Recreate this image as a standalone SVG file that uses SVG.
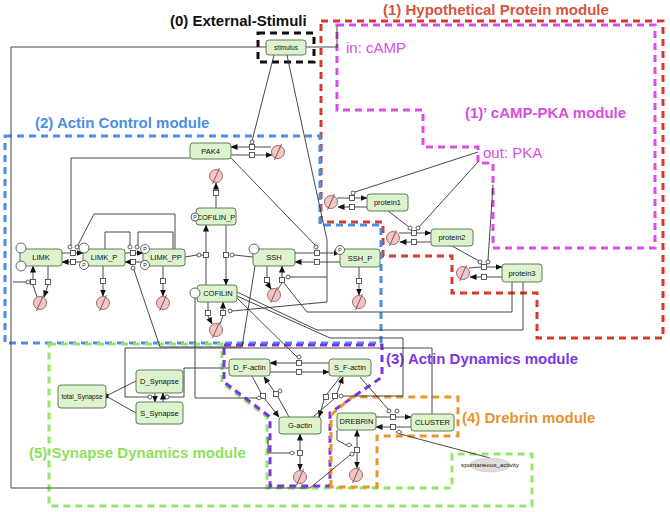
<svg xmlns="http://www.w3.org/2000/svg" xmlns:xlink="http://www.w3.org/1999/xlink" width="670" height="512" viewBox="0 0 670 512">
<style>
.ln{fill:none;stroke:#333;stroke-width:0.9}
.ar{fill:none;stroke:#333;stroke-width:0.9;marker-end:url(#ah)}
.node{fill:#dcf3cd;stroke:#5e7d55;stroke-width:1}
.lbl{font-family:"Liberation Sans",Arial,sans-serif;font-size:7.5px;fill:#111;text-anchor:middle}
.mod{fill:#fff;stroke:#333;stroke-width:0.8}
.big{fill:#fff;stroke:#555;stroke-width:0.9}
.ptx{font-family:"Liberation Sans",Arial,sans-serif;font-size:5px;fill:#222;text-anchor:middle}
.title{font-family:"Liberation Sans",Arial,sans-serif;font-size:15px;font-weight:bold}
.io{font-family:"Liberation Sans",Arial,sans-serif;font-size:15px;fill:#d64ee0}
.mb{fill:none;stroke-width:3;stroke-dasharray:7 5}
</style>
<defs>
<marker id="ah" markerWidth="7" markerHeight="6" refX="6.5" refY="3" orient="auto" markerUnits="userSpaceOnUse"><path d="M0,0 L7,3 L0,6 z" fill="#111"/></marker>
<g id="deg"><circle r="6.5" fill="#f3c6c6" stroke="#8a4a4a" stroke-width="0.8"/><line x1="-3.5" y1="8" x2="3.5" y2="-8" stroke="#6a3a3a" stroke-width="0.8"/></g>
<rect id="sq" x="-2.5" y="-2.5" width="5" height="5" fill="#fff" stroke="#333" stroke-width="0.8"/>
<path id="dia" d="M-3,0 L0,-2 L3,0 L0,2 z" fill="#fff" stroke="#333" stroke-width="0.8"/>
</defs>
<rect width="670" height="512" fill="#fff"/>

<g id="modules">
<polygon class="mb" stroke="#d8392b" points="321,21 663,21 663,338 537,338 537,293 452,293 452,256 383,256 383,222 321,222"/>
<polygon class="mb" stroke="#d94ce6" points="337,25 655,25 655,248 493,248 493,163 478,163 478,147 423,147 423,110 337,110"/>
<polygon class="mb" stroke="#4a8ee8" points="5,136 320,136 320,225 381,225 381,343 5,343"/>
<polygon class="mb" stroke="#94e66a" points="49,344 222,344 222,383 267,417 267,488 452,488 452,454 532,454 532,506 49,506"/>
<polygon class="mb" stroke="#7a35e8" points="224,345 382,345 382,377 330,413 330,486 270,486 270,417 224,382"/>
<polygon class="mb" stroke="#ea952c" points="331,487 331,415 352,397 458,397 458,436 377,436 377,487"/>
<rect class="mb" stroke="#111" x="258" y="33" width="56" height="29"/>
<text class="title" x="170" y="26" fill="#111">(0) External-Stimuli</text>
<text class="title" x="383" y="15" fill="#d9553f">(1) Hypothetical Protein module</text>
<text class="io" x="346" y="53">in: cAMP</text>
<text class="title" x="465" y="118" fill="#d64ee0">(1)’ cAMP-PKA module</text>
<text class="io" x="483" y="158">out: PKA</text>
<text class="title" x="35" y="128" fill="#4a8ee8">(2) Actin Control module</text>
<text class="title" x="386" y="364" fill="#7a35e8">(3) Actin Dynamics module</text>
<text class="title" x="462" y="423" fill="#e8922a">(4) Drebrin module</text>
<text class="title" x="29" y="458" fill="#8ee05c">(5) Synapse Dynamics module</text>
</g>

<g id="connectors">
<!-- stimulus -->
<polyline class="ln" points="266,47 11,47 11,488 310,488 350,455"/>
<polyline class="ln" points="306,47 337,47 337,27"/>
<polyline class="ln" points="274,55 252,141"/>
<polyline class="ln" points="287,55 303,130 327,240 327,302 232,311"/>
<polyline class="ln" points="13,282 27,282"/>
<!-- PAK4 -->
<line class="ln" x1="271" y1="147" x2="255" y2="147"/>
<line class="ar" x1="249" y1="147" x2="231" y2="147"/>
<line class="ln" x1="231" y1="155" x2="249" y2="155"/>
<line class="ar" x1="255" y1="155" x2="272" y2="155"/>
<polyline class="ln" points="190,158 71,158 71,245"/>
<polyline class="ln" points="231,158 315,245"/>
<!-- COFILIN_P degradation -->
<line class="ln" x1="216" y1="208" x2="216" y2="196"/>
<line class="ar" x1="216" y1="190" x2="216" y2="183"/>
<!-- LIMK -->
<line class="ln" x1="62" y1="253" x2="70" y2="253"/>
<line class="ar" x1="76" y1="253" x2="83" y2="253"/>
<line class="ln" x1="83" y1="262" x2="76" y2="262"/>
<line class="ar" x1="70" y1="262" x2="62" y2="262"/>
<line class="ln" x1="125" y1="253" x2="130" y2="253"/>
<line class="ar" x1="136" y1="253" x2="143" y2="253"/>
<line class="ln" x1="143" y1="262" x2="136" y2="262"/>
<line class="ar" x1="130" y1="262" x2="125" y2="262"/>
<polyline class="ln" points="175,249 175,214 94,214 78,245"/>
<polyline class="ln" points="105,249 105,232 130,232 130,245"/>
<polyline class="ln" points="138,245 138,232 173,232 173,249"/>
<line class="ln" x1="37" y1="297" x2="33" y2="285"/>
<line class="ar" x1="33" y1="279" x2="33" y2="266"/>
<line class="ln" x1="48" y1="266" x2="48" y2="279"/>
<line class="ar" x1="48" y1="285" x2="44" y2="297"/>
<line class="ln" x1="103" y1="266" x2="103" y2="278"/>
<line class="ar" x1="103" y1="284" x2="103" y2="296"/>
<line class="ln" x1="163" y1="266" x2="163" y2="278"/>
<line class="ar" x1="163" y1="284" x2="163" y2="296"/>
<!-- COFILIN phosphorylation -->
<line class="ln" x1="185" y1="257" x2="197" y2="255"/>
<line class="ln" x1="201" y1="255" x2="203.5" y2="255"/>
<line class="ln" x1="206" y1="285" x2="206" y2="258"/>
<line class="ar" x1="206" y1="252" x2="206" y2="225"/>
<line class="ln" x1="226" y1="225" x2="226" y2="252"/>
<line class="ar" x1="226" y1="258" x2="226" y2="285"/>
<line class="ln" x1="253" y1="257" x2="234" y2="255"/>
<!-- SSH -->
<line class="ln" x1="295" y1="253" x2="314" y2="253"/>
<line class="ar" x1="320" y1="253" x2="340" y2="253"/>
<line class="ln" x1="340" y1="262" x2="320" y2="262"/>
<line class="ar" x1="314" y1="262" x2="295" y2="262"/>
<line class="ln" x1="267" y1="266" x2="267" y2="277"/>
<line class="ar" x1="267" y1="283" x2="271" y2="289"/>
<line class="ln" x1="278" y1="289" x2="282" y2="283"/>
<line class="ar" x1="282" y1="277" x2="282" y2="266"/>
<polyline class="ln" points="290,277 327,277"/>
<polyline class="ln" points="284,283 307,312 512,312 512,282"/>
<line class="ln" x1="359" y1="267" x2="359" y2="278"/>
<line class="ar" x1="359" y1="284" x2="359" y2="295"/>
<polyline class="ln" points="255,266 242,347 160,347 134,270"/>
<!-- COFILIN -->
<line class="ln" x1="208" y1="302" x2="208" y2="310"/>
<line class="ar" x1="208" y1="316" x2="212" y2="324"/>
<line class="ln" x1="220" y1="324" x2="223" y2="316"/>
<line class="ar" x1="223" y1="310" x2="223" y2="302"/>
<polyline class="ln" points="237,292 317,330 523,330 523,282"/>
<polyline class="ln" points="237,296 330,338 403,338 403,396 343,396"/>
<polyline class="ln" points="237,298 297,357"/>
<polyline class="ln" points="195,298 195,398 256,398"/>
<!-- proteins -->
<line class="ln" x1="337" y1="198" x2="349" y2="198"/>
<line class="ar" x1="355" y1="198" x2="367" y2="198"/>
<line class="ln" x1="367" y1="207" x2="355" y2="207"/>
<line class="ar" x1="349" y1="207" x2="338" y2="207"/>
<line class="ln" x1="478" y1="152" x2="355" y2="192"/>
<line class="ln" x1="399" y1="233" x2="411" y2="233"/>
<line class="ar" x1="417" y1="233" x2="431" y2="233"/>
<line class="ln" x1="431" y1="242" x2="417" y2="242"/>
<line class="ar" x1="411" y1="242" x2="400" y2="242"/>
<line class="ln" x1="388" y1="211" x2="409" y2="227"/>
<line class="ln" x1="478" y1="162" x2="419" y2="227"/>
<line class="ln" x1="469" y1="268" x2="481" y2="267"/>
<line class="ar" x1="487" y1="267" x2="502" y2="267"/>
<line class="ln" x1="502" y1="277" x2="487" y2="277"/>
<line class="ar" x1="481" y1="277" x2="470" y2="277"/>
<line class="ln" x1="452" y1="246" x2="479" y2="261"/>
<line class="ln" x1="493" y1="185" x2="488" y2="260"/>
<!-- actin -->
<line class="ln" x1="329" y1="363" x2="302" y2="363"/>
<line class="ar" x1="296" y1="363" x2="270" y2="363"/>
<line class="ln" x1="270" y1="372" x2="296" y2="372"/>
<line class="ar" x1="302" y1="372" x2="329" y2="372"/>
<polyline class="ln" points="432,414 432,348 125,348 125,397 148,397"/>
<polyline class="ln" points="229,368 184,368 184,397 169,397"/>
<line class="ln" x1="252" y1="376" x2="261" y2="393"/>
<line class="ar" x1="265" y1="399" x2="279" y2="417"/>
<line class="ln" x1="289" y1="417" x2="278" y2="397"/>
<line class="ar" x1="274" y1="391" x2="264" y2="377"/>
<line class="ln" x1="341" y1="376" x2="327" y2="394"/>
<line class="ar" x1="324" y1="400" x2="319" y2="417"/>
<line class="ln" x1="313" y1="417" x2="334" y2="399"/>
<line class="ar" x1="337" y1="393" x2="343" y2="377"/>
<line class="ln" x1="300" y1="450" x2="300" y2="450"/>
<line class="ar" x1="300" y1="450" x2="300" y2="434"/>
<line class="ar" x1="300" y1="456" x2="300" y2="470"/>
<polyline class="ln" points="268,437 268,453 289,453"/>
<!-- synapse -->
<line class="ar" x1="155" y1="393" x2="155" y2="402"/>
<line class="ar" x1="163" y1="402" x2="163" y2="393"/>
<line class="ln" x1="136" y1="381" x2="106" y2="396"/>
<line class="ln" x1="136" y1="413" x2="106" y2="396"/>
<!-- drebrin -->
<line class="ln" x1="376" y1="417" x2="390" y2="417"/>
<line class="ar" x1="396" y1="417" x2="411" y2="417"/>
<line class="ln" x1="411" y1="427" x2="396" y2="427"/>
<line class="ar" x1="390" y1="427" x2="376" y2="427"/>
<line class="ln" x1="360" y1="377" x2="388" y2="409"/>
<line class="ln" x1="400" y1="434" x2="490" y2="458"/>
<line class="ar" x1="357" y1="447" x2="357" y2="430"/>
<line class="ar" x1="357" y1="453" x2="357" y2="468"/>
<polyline class="ln" points="337,430 337,440 346,445"/>
<!-- decorations -->
<use href="#sq" x="252" y="147"/><use href="#sq" x="252" y="155"/>
<circle class="mod" cx="252" cy="142" r="2"/>
<use href="#sq" x="216" y="193"/>
<use href="#sq" x="73" y="253"/><use href="#sq" x="73" y="262"/>
<circle class="mod" cx="70" cy="247" r="2"/><circle class="mod" cx="77" cy="247" r="2"/>
<use href="#sq" x="133" y="253"/><use href="#sq" x="133" y="262"/>
<circle class="mod" cx="130" cy="247" r="2"/><circle class="mod" cx="137" cy="247" r="2"/><circle class="mod" cx="133" cy="268" r="2"/>
<use href="#sq" x="33" y="282"/><use href="#sq" x="48" y="282"/>
<circle class="mod" cx="28" cy="282" r="2"/>
<use href="#sq" x="103" y="281"/><use href="#sq" x="163" y="281"/>
<use href="#sq" x="206" y="255"/><circle class="mod" cx="199" cy="255" r="2"/>
<use href="#sq" x="226" y="255"/><circle class="mod" cx="232" cy="255" r="2"/>
<use href="#sq" x="317" y="253"/><use href="#sq" x="317" y="262"/>
<circle class="mod" cx="316" cy="247" r="2"/>
<use href="#sq" x="267" y="280"/><use href="#sq" x="282" y="280"/>
<circle class="mod" cx="288" cy="277" r="2"/>
<use href="#sq" x="359" y="281"/>
<use href="#sq" x="208" y="313"/><use href="#sq" x="223" y="313"/>
<circle class="mod" cx="230" cy="311" r="2"/>
<use href="#sq" x="352" y="198"/><use href="#sq" x="352" y="207"/>
<circle class="mod" cx="353" cy="193" r="2"/>
<use href="#sq" x="414" y="233"/><use href="#sq" x="414" y="242"/>
<circle class="mod" cx="410" cy="228" r="2"/><circle class="mod" cx="418" cy="228" r="2"/>
<use href="#sq" x="484" y="267"/><use href="#sq" x="484" y="277"/>
<circle class="mod" cx="480" cy="262" r="2"/><circle class="mod" cx="488" cy="262" r="2"/>
<use href="#sq" x="299" y="363"/><use href="#sq" x="299" y="372"/>
<circle class="mod" cx="299" cy="357" r="2"/>
<use href="#sq" x="263" y="396"/><use href="#sq" x="276" y="394"/>
<use href="#dia" x="259" y="398"/><circle class="mod" cx="280" cy="391" r="2"/>
<use href="#sq" x="326" y="397"/><use href="#sq" x="335" y="396"/>
<circle class="mod" cx="341" cy="396" r="2"/>
<use href="#sq" x="300" y="453"/><use href="#dia" x="292" y="453"/>
<circle class="mod" cx="150" cy="397" r="2"/><circle class="mod" cx="167" cy="397" r="2"/>
<use href="#sq" x="393" y="417"/><use href="#sq" x="393" y="427"/>
<circle class="mod" cx="389" cy="411" r="2"/><circle class="mod" cx="397" cy="411" r="2"/>
<use href="#dia" x="399" y="432"/>
<use href="#sq" x="357" y="450"/><use href="#dia" x="349" y="445"/><circle class="mod" cx="352" cy="454" r="2"/>
<circle cx="106" cy="396" r="2.5" fill="#111"/>
<!-- degradation -->
<use href="#deg" x="278" y="152"/>
<use href="#deg" x="216" y="176"/>
<use href="#deg" x="331" y="202"/>
<use href="#deg" x="393" y="238"/>
<use href="#deg" x="463" y="273"/>
<use href="#deg" x="359" y="302"/>
<use href="#deg" x="40" y="303"/>
<use href="#deg" x="103" y="303"/>
<use href="#deg" x="163" y="303"/>
<use href="#deg" x="274" y="295"/>
<use href="#deg" x="216" y="330"/>
<use href="#deg" x="300" y="477"/>
<use href="#deg" x="356" y="475"/>
</g>

<g id="stimulus"><rect class="node" x="266" y="40" width="40" height="15" rx="3"/><text class="lbl" x="286" y="50" style="font-size:6.5px">stimulus</text></g>
<g id="PAK4"><rect class="node" x="190" y="143" width="41" height="16" rx="3"/><text class="lbl" x="210.5" y="153.5">PAK4</text></g>
<g id="COFILIN_P"><rect class="node" x="196" y="208" width="40" height="17" rx="3"/><text class="lbl" x="216" y="219.5">COFILIN_P</text><circle class="big" cx="195" cy="217" r="4"/><text class="ptx" x="195" y="219">P</text></g>
<g id="LIMK"><rect class="node" x="20" y="249" width="42" height="17" rx="3"/><text class="lbl" x="41" y="260">LIMK</text><circle class="big" cx="21" cy="248" r="5"/><circle class="big" cx="21" cy="266" r="5"/></g>
<g id="LIMK_P"><rect class="node" x="83" y="249" width="42" height="17" rx="3"/><text class="lbl" x="104" y="260">LIMK_P</text><circle class="big" cx="84" cy="248" r="5"/><circle class="big" cx="84" cy="265" r="4.5"/><text class="ptx" x="84" y="267">P</text></g>
<g id="LIMK_PP"><rect class="node" x="143" y="249" width="42" height="17" rx="3"/><text class="lbl" x="166" y="260">LIMK_PP</text><circle class="big" cx="145" cy="249" r="4.5"/><text class="ptx" x="145" y="251">P</text><circle class="big" cx="145" cy="265" r="4.5"/><text class="ptx" x="145" y="267">P</text></g>
<g id="SSH"><rect class="node" x="253" y="249" width="42" height="17" rx="3"/><text class="lbl" x="274" y="260">SSH</text><circle class="big" cx="254" cy="249" r="5"/></g>
<g id="SSH_P"><rect class="node" x="340" y="249" width="40" height="18" rx="3"/><text class="lbl" x="360" y="261">SSH_P</text><circle class="big" cx="340" cy="250" r="4.5"/><text class="ptx" x="340" y="252">P</text></g>
<g id="COFILIN"><rect class="node" x="197" y="285" width="40" height="17" rx="3"/><text class="lbl" x="218" y="296">COFILIN</text><circle class="big" cx="195" cy="293" r="5"/></g>
<g id="protein1"><rect class="node" x="367" y="194" width="41" height="17" rx="3"/><text class="lbl" x="387.5" y="205">protein1</text></g>
<g id="protein2"><rect class="node" x="431" y="229" width="42" height="17" rx="3"/><text class="lbl" x="452" y="240">protein2</text></g>
<g id="protein3"><rect class="node" x="502" y="264" width="40" height="18" rx="3"/><text class="lbl" x="522" y="276">protein3</text></g>
<g id="D_F-actin"><rect class="node" x="229" y="359" width="41" height="17" rx="3"/><text class="lbl" x="249.5" y="370">D_F-actin</text></g>
<g id="S_F-actin"><rect class="node" x="329" y="359" width="42" height="17" rx="3"/><text class="lbl" x="350" y="370">S_F-actin</text></g>
<g id="G-actin"><rect class="node" x="279" y="417" width="42" height="17" rx="3"/><text class="lbl" x="300" y="428">G-actin</text></g>
<g id="DREBRIN"><rect class="node" x="337" y="413" width="39" height="17" rx="3"/><text class="lbl" x="356.5" y="424">DREBRIN</text></g>
<g id="CLUSTER"><rect class="node" x="411" y="414" width="43" height="17" rx="3"/><text class="lbl" x="432.5" y="425">CLUSTER</text></g>
<g id="D_Synapse"><rect class="node" x="136" y="370" width="47" height="23" rx="3"/><text class="lbl" x="159.5" y="384">D_Synapse</text></g>
<g id="S_Synapse"><rect class="node" x="136" y="402" width="47" height="22" rx="3"/><text class="lbl" x="159.5" y="416">S_Synapse</text></g>
<g id="total_Synapse"><rect class="node" x="58" y="385" width="48" height="23" rx="3"/><text class="lbl" x="82" y="399" style="font-size:6.5px">total_Synapse</text></g>
<g id="spontaneous_activity"><ellipse cx="490" cy="465" rx="20" ry="7" fill="#ddd" stroke="#ccc" stroke-width="0.6"/><text class="lbl" x="490" y="467" style="font-size:6.2px">spontaneous_activity</text></g>
</svg>
